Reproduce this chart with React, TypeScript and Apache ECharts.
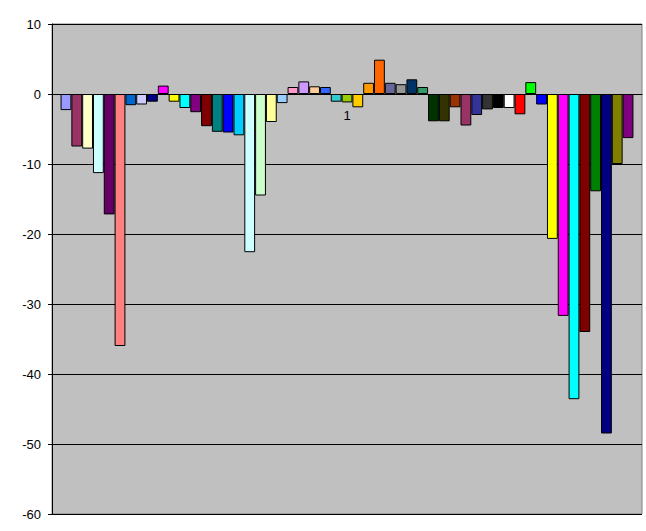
import React, { useEffect, useRef } from "react";
import * as echarts from "echarts";

const categories = ["1"];

const seriesValues = [
  -2.3, -7.5, -7.8, -11.3, -17.2, -36.0, -1.6, -1.5, -1.1, 1.2,
  -1.1, -2.0, -2.6, -4.6, -5.4, -5.5, -5.9, -22.6, -14.5, -4.0,
  -1.3, 1.0, 1.8, 1.1, 1.0, -1.1, -1.2, -1.9, 1.6, 4.9,
  1.6, 1.4, 2.1, 1.0, -3.9, -3.9, -1.9, -4.5, -3.0, -2.2,
  -2.0, -2.0, -2.9, 1.7, -1.5, -20.7, -31.7, -43.6, -34.0, -13.9,
  -48.5, -10.0, -6.3,
];

const seriesNames = seriesValues.map((_, i) => "系列" + (i + 1));

const palette = [
  "#9999FF", "#993366", "#FFFFCC", "#CCFFFF", "#660066", "#FF8080", "#0066CC", "#CCCCFF",
  "#000080", "#FF00FF", "#FFFF00", "#00FFFF", "#800080", "#800000", "#008080", "#0000FF",
  "#00CCFF", "#CCFFFF", "#CCFFCC", "#FFFF99", "#99CCFF", "#FF99CC", "#CC99FF", "#FFCC99",
  "#3366FF", "#33CCCC", "#99CC00", "#FFCC00", "#FF9900", "#FF6600", "#666699", "#969696",
  "#003366", "#339966", "#003300", "#333300", "#993300", "#993366", "#333399", "#333333",
  "#000000", "#FFFFFF", "#FF0000", "#00FF00", "#0000FF", "#FFFF00", "#FF00FF", "#00FFFF",
  "#800000", "#008000", "#000080", "#808000", "#800080",
];

const yTicks = { min: -60, max: 10, interval: 10 };

export default function App() {
  const ref = useRef<HTMLDivElement>(null);

  useEffect(() => {
    if (!ref.current) return;
    const chart = echarts.init(ref.current, undefined, { renderer: "svg" });
    const font = "'Liberation Sans', Arial, sans-serif";
    const gridTop = 24;
    const gridBottom = 17;
    const plotHeight = 531 - gridTop - gridBottom;
    const zeroOffset = -plotHeight * (0 - yTicks.min) / (yTicks.max - yTicks.min);
    chart.setOption({
      animation: false,
      backgroundColor: "#FFFFFF",
      color: palette,
      grid: {
        left: 52,
        top: gridTop,
        right: 4,
        bottom: gridBottom,
        show: true,
        backgroundColor: "#C0C0C0",
        borderColor: "#808080",
        borderWidth: 1,
        containLabel: false,
        outerBoundsMode: "none",
      },
      xAxis: [
        {
          type: "category",
          data: categories,
          axisLine: { show: true, onZero: true, lineStyle: { color: "#000", width: 1 } },
          axisTick: { show: false },
          axisLabel: { show: false },
          splitLine: { show: false },
        },
        {
          type: "category",
          data: categories,
          position: "bottom",
          offset: zeroOffset,
          axisLine: { show: false, onZero: false },
          axisTick: { show: false },
          axisLabel: { color: "#000", fontSize: 13, fontFamily: font, margin: 15 },
          splitLine: { show: false },
        },
      ],
      yAxis: {
        type: "value",
        min: yTicks.min,
        max: yTicks.max,
        interval: yTicks.interval,
        axisLine: { show: true, onZero: false, lineStyle: { color: "#000", width: 1 } },
        axisTick: { show: true, inside: false, length: 4, lineStyle: { color: "#000" } },
        axisLabel: { color: "#000", fontSize: 13, fontFamily: font, margin: 11 },
        splitLine: { show: true, lineStyle: { color: "#000", width: 1 } },
      },
      series: seriesValues.map((v, i) => ({
        name: seriesNames[i],
        type: "bar",
        xAxisIndex: 0,
        data: [v],
        barGap: "0%",
        barCategoryGap: "2.9%",
        itemStyle: { color: palette[i % palette.length], borderColor: "#000", borderWidth: 1 },
      })),
    });
    return () => chart.dispose();
  }, []);

  return (
    <div
      ref={ref}
      style={{ position: "fixed", left: 0, top: 0, width: 646, height: 531 }}
    />
  );
}
